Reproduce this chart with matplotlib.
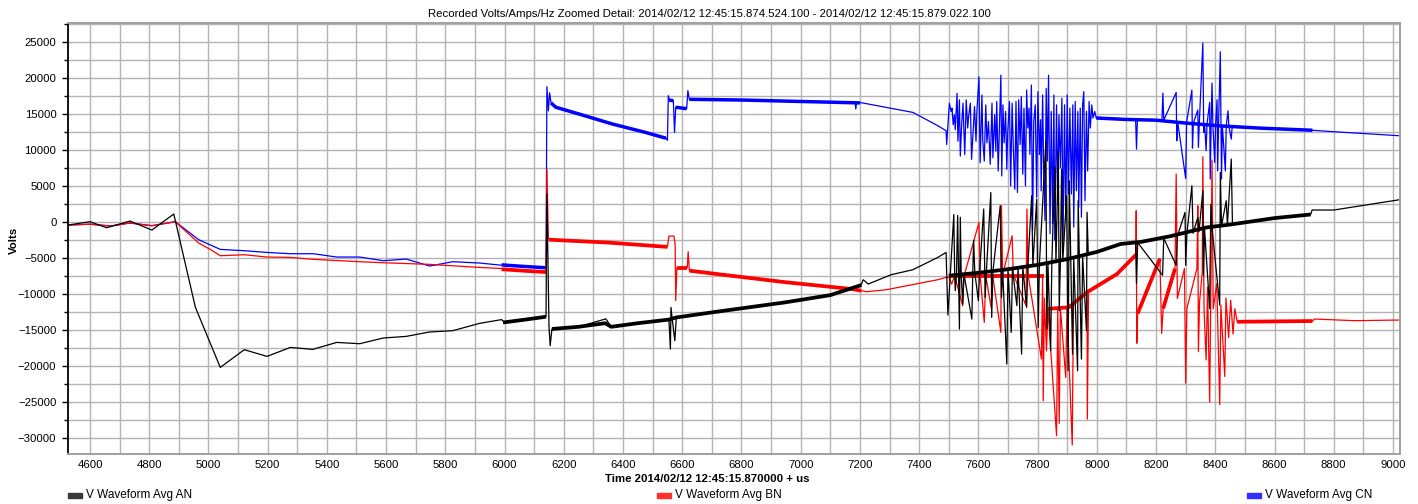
import matplotlib
matplotlib.use("Agg")
import matplotlib.pyplot as plt
from matplotlib.patches import Rectangle
from matplotlib.ticker import MultipleLocator

plt.rcParams["font.family"] = ["Liberation Sans", "DejaVu Sans"]

title = ("Recorded Volts/Amps/Hz Zoomed Detail: 2014/02/12 12:45:15.874.524.100"
         " - 2014/02/12 12:45:15.879.022.100")
x_label = "Time 2014/02/12 12:45:15.870000 + us"
y_label = "Volts"
series_names = ["V Waveform Avg AN", "V Waveform Avg BN", "V Waveform Avg CN"]

# (time us, volts) samples of each phase
an_pts = [
    (4527, -360), (4600, 100), (4656, -740), (4735, 190), (4809, -1060), (4883, 1170),
    (4956, -11800), (5040, -20140), (5121, -17680), (5198, -18610), (5277, -17360),
    (5352, -17640), (5433, -16670), (5511, -16850), (5590, -16060), (5668, -15830),
    (5747, -15220), (5825, -15040), (5915, -14030), (5990, -13500),
    (6000, -13900), (6070, -13500), (6140, -13100),
    (6143, 3940), (6150, -14400), (6154, -17130), (6160, -14800),
    (6250, -14500), (6342, -13400), (6360, -14500), (6450, -14000), (6555, -13500),
    (6560, -17590), (6562, -11800), (6566, -13400), (6575, -16430), (6580, -13200),
    (6700, -12500), (6947, -11110), (7100, -10100), (7205, -8600),
    (7211, -7960), (7228, -8560), (7306, -7260), (7379, -6570), (7463, -4860), (7491, -4170),
    (7497, -12870), (7505, -7400), (7517, 1090), (7520, -7300), (7522, -9490), (7526, -7300),
    (7530, 950), (7533, -7200), (7536, -14820), (7539, 720), (7542, -7200), (7547, -11340),
    (7551, -7100), (7578, -13430), (7581, -7100), (7584, -2490), (7588, -7000),
    (7600, -10880), (7604, -7000), (7618, 1870), (7623, -10420), (7627, -6900),
    (7642, 4160), (7645, -13200), (7649, -6800), (7674, 2330), (7678, -10420), (7682, -6700),
    (7696, -19680), (7700, -6500), (7711, -15280), (7715, -6400), (7730, -11570), (7734, -6300),
    (7746, -18290), (7750, -6200), (7763, -11800), (7767, -6100), (7780, 3710), (7784, -6000),
    (7797, 3250), (7802, -14580), (7806, -5900), (7828, 11280), (7831, -14820), (7835, -5800),
    (7844, -17830), (7848, -5700), (7858, 7610), (7862, -5600), (7870, 9900), (7873, -12270),
    (7877, -5500), (7881, 7380), (7885, -5400), (7898, 3710), (7903, -20600), (7907, 5770),
    (7912, -5100), (7918, -18290), (7922, -5000), (7935, -20600), (7937, 3020), (7941, -4800),
    (7948, -18980), (7952, -4700), (7965, -15050), (7967, 1410), (7971, -4400),
    (8000, -4100), (8080, -3000), (8131, -2800), (8134, -8490), (8138, -2800),
    (8222, -7340), (8226, -2200), (8268, -5960), (8272, -1900), (8298, 1390), (8300, -5960),
    (8304, -1700), (8321, 5090), (8325, -1500), (8341, 690), (8345, -1300), (8358, 4400),
    (8360, -7340), (8364, -1000), (8381, -11950), (8385, 2540), (8389, -800), (8415, -11490),
    (8417, 6940), (8421, -500), (8437, 3010), (8441, -400), (8454, 8800), (8458, -300),
    (8600, 600), (8722, 1100), (8727, 1720), (8800, 1720), (9022, 3150),
]

bn_pts = [
    (4527, -360), (4600, -250), (4670, -500), (4735, -80), (4809, -460), (4888, 100),
    (4967, -2860), (5010, -3840), (5040, -4630), (5121, -4490), (5198, -4810), (5277, -4860),
    (5354, -5130), (5511, -5460), (5590, -5600), (5747, -5830), (5915, -6250), (5983, -6390),
    (6060, -6700), (6140, -6940),
    (6143, 7420), (6148, -2300), (6350, -2800), (6550, -3400),
    (6555, -1900), (6572, -1900), (6576, -3000), (6578, -10870), (6582, -6300),
    (6617, -6300), (6620, -4070), (6624, -6700),
    (6723, -7200), (6947, -8300), (7172, -9250), (7205, -9490),
    (7222, -9630), (7289, -9350), (7463, -7960), (7491, -7640),
    (7500, -7600), (7510, -8560), (7520, -7400), (7547, -11570), (7552, -7400),
    (7602, 0), (7606, -7400), (7620, -13890), (7625, -7400), (7643, -11800), (7648, -7300),
    (7676, -15280), (7678, 2320), (7682, -7300), (7714, -1850), (7718, -7200),
    (7761, -11570), (7764, 1860), (7768, -7300), (7813, -18980), (7817, -7500),
    (7819, -24770), (7823, -10500), (7830, -17830), (7835, -12000), (7864, -29630),
    (7868, -12000), (7873, -27920), (7877, -11900), (7895, -21530), (7899, -11800),
    (7917, -30930), (7921, -11200), (7967, -9700), (7968, -27320), (7972, -9600),
    (8068, -7170), (8132, -4500), (8133, 1620), (8135, -16790), (8138, -12640),
    (8213, -5040), (8219, -15410), (8224, -11950), (8264, -6420), (8268, 6710),
    (8272, -10560), (8296, -6400), (8300, -22320), (8304, -12000), (8338, -6400),
    (8341, 2310), (8343, -17940), (8347, -11000), (8356, -7000), (8358, 9120),
    (8362, -12000), (8369, -19100), (8374, -9000), (8381, -24950), (8385, -10000),
    (8389, 8660), (8393, -12000), (8405, -8500), (8415, -25320), (8419, -11500),
    (8432, -21400), (8436, -10500), (8445, -16000), (8452, -10800), (8460, -15500),
    (8466, -12000), (8474, -13800), (8728, -13700), (8735, -13420), (8870, -13650),
    (9022, -13560),
]

cn_pts = [
    (4527, -360), (4600, -250), (4670, -500), (4735, -80), (4809, -460), (4888, 100),
    (4967, -2400), (5040, -3750), (5121, -3930), (5198, -4170), (5277, -4350), (5354, -4350),
    (5433, -4810), (5511, -4810), (5590, -5320), (5668, -5090), (5747, -6060), (5825, -5460),
    (5915, -5640), (5983, -5920), (6060, -6100), (6140, -6300),
    (6143, 18850), (6148, 15500), (6152, 18000), (6157, 16600), (6173, 16000),
    (6252, 15050), (6364, 13670), (6476, 12500), (6545, 11700), (6550, 11400),
    (6553, 17600), (6558, 16900), (6570, 16900), (6574, 12500), (6578, 16000),
    (6615, 15800), (6619, 18300), (6624, 17100), (6800, 17000), (7000, 16800),
    (7184, 16700), (7186, 15750), (7189, 16700), (7211, 16580), (7379, 15280),
    (7463, 13430), (7491, 12740), (7493, 10820),
    (7502, 16560), (7508, 15410), (7511, 15870), (7515, 13570), (7519, 14950), (7522, 12890),
    (7528, 17930), (7531, 11280), (7536, 17020), (7539, 9210), (7543, 13110), (7548, 16560),
    (7554, 9440), (7559, 17020), (7564, 13110), (7567, 14720), (7573, 16560), (7577, 8750),
    (7582, 12430), (7587, 16100), (7592, 11280), (7595, 15410), (7602, 20230), (7606, 8290),
    (7612, 17700), (7615, 11280), (7620, 8520), (7625, 16330), (7629, 11050), (7634, 14030),
    (7640, 8070), (7646, 16560), (7649, 8980), (7655, 14950), (7659, 9900), (7662, 16790),
    (7667, 7150), (7674, 17700), (7676, 20460), (7679, 6460), (7683, 16330), (7687, 11050),
    (7692, 15410), (7696, 7380), (7699, 12430), (7705, 16790), (7709, 5080), (7714, 16560),
    (7718, 10360), (7723, 4620), (7727, 16790), (7732, 4160), (7736, 17020), (7741, 10820),
    (7745, 17480), (7750, 6690), (7754, 15870), (7759, 5080), (7763, 18390), (7767, 13110),
    (7771, 15870), (7774, 9440), (7779, 19080), (7783, -1110), (7787, 14030), (7792, 16330),
    (7797, 3480), (7801, 18160), (7806, 9440), (7810, 14260), (7812, 4390), (7817, 17700),
    (7820, 8520), (7825, 260), (7829, 18620), (7833, 8520), (7837, 20460), (7842, -1570),
    (7846, 15410), (7851, -200), (7855, 17700), (7858, -2490), (7864, 16330), (7868, 2560),
    (7872, 14950), (7877, 7610), (7882, 17250), (7886, -2490), (7891, 16330), (7895, 260),
    (7900, 17700), (7904, 3940), (7909, 15870), (7914, 3940), (7919, 16330), (7922, -650),
    (7927, 16790), (7931, 4390), (7936, 15410), (7939, 2100), (7944, 15870), (7948, 720),
    (7952, 16330), (7956, 18160), (7960, 3020), (7965, 15410), (7969, 7150), (7974, 16790),
    (7978, 13110), (7983, 16330), (7987, 14490), (7993, 15410), (7998, 14490),
    (8000, 14600), (8131, 14300), (8134, 10180), (8137, 14300), (8220, 14200), (8223, 17960),
    (8226, 14200), (8268, 18050), (8270, 11340), (8273, 14000), (8300, 6110), (8303, 13900),
    (8321, 18380), (8323, 10320), (8326, 13800), (8341, 15600), (8343, 10420), (8346, 13700),
    (8358, 24910), (8361, 12500), (8364, 13700), (8369, 9950), (8372, 13600), (8381, 16670),
    (8383, 6020), (8386, 13600), (8389, 19350), (8392, 13500), (8398, 8330), (8401, 13500),
    (8406, 17040), (8408, 7170), (8411, 13400), (8417, 23700), (8421, 6020), (8424, 13400),
    (8434, 7170), (8437, 13400), (8443, 15510), (8446, 13300), (8454, 11570), (8457, 13300),
    (8728, 12800), (8800, 12600), (9022, 12040),
]

# stretches where the high rate samples smear into a solid noise band
an_band = [
    [(5995, -13900), (6070, -13500), (6140, -13100)],
    [(6160, -14800), (6250, -14500), (6340, -14000), (6360, -14500), (6450, -14000),
     (6555, -13500), (6580, -13200), (6700, -12500), (6947, -11110), (7100, -10100),
     (7205, -8700)],
    [(7500, -7400), (7600, -7000), (7700, -6500), (7800, -5900), (7900, -5100),
     (8000, -4100), (8080, -3000), (8150, -2700), (8250, -1900), (8370, -700),
     (8450, -300), (8600, 600), (8722, 1100)],
]
bn_band = [
    [(5990, -6500), (6060, -6700), (6140, -6900)],
    [(6150, -2400), (6350, -2800), (6550, -3400)],
    [(6582, -6300), (6617, -6300)],
    [(6624, -6700), (6723, -7200), (6947, -8300), (7172, -9250), (7205, -9490)],
    [(7500, -7500), (7820, -7500)],
    [(7835, -12000), (7905, -11800), (7967, -9700), (8068, -7170), (8132, -4500)],
    [(8138, -12640), (8213, -5040)],
    [(8224, -11950), (8264, -6420)],
    [(8474, -13800), (8728, -13700)],
]
cn_band = [
    [(5990, -5900), (6060, -6100), (6140, -6300)],
    [(6157, 16600), (6173, 16000), (6252, 15050), (6364, 13670), (6476, 12500),
     (6545, 11700)],
    [(6555, 17000), (6570, 16900)],
    [(6578, 16000), (6615, 15800)],
    [(6624, 17100), (6800, 17000), (7000, 16800), (7200, 16600)],
    [(7998, 14500), (8100, 14300), (8200, 14200), (8300, 13800), (8420, 13400),
     (8550, 13100), (8728, 12800)],
]

W, H = 1418, 504
fig = plt.figure(figsize=(W / 100, H / 100), dpi=100)
left, right, top, bottom = 67.5, 1399.5, 23, 453.5
ax = fig.add_axes([left / W, 1 - bottom / H, (right - left) / W, (bottom - top) / H])

# blue first, black last so AN sits on top
for pts, bands, color, bw in [(cn_pts, cn_band, "#0000ff", 2.5),
                              (bn_pts, bn_band, "#ff0000", 2.7),
                              (an_pts, an_band, "#000000", 2.7)]:
    for seg in bands:
        t, v = zip(*seg)
        ax.plot(t, v, color=color, lw=bw, solid_capstyle="butt")
    t, v = zip(*pts)
    ax.plot(t, v, color=color, lw=0.9)

ax.set_xlim(4524.1, 9022.1)
ax.set_ylim(-32100, 27700)
ax.xaxis.set_major_locator(MultipleLocator(200))
ax.xaxis.set_minor_locator(MultipleLocator(100))
ax.yaxis.set_major_locator(MultipleLocator(5000))
ax.yaxis.set_minor_locator(MultipleLocator(2500))
ax.grid(which="both", color="#b4b4b4", lw=1.0)
ax.set_axisbelow(True)

ax.tick_params(axis="x", which="both", length=0, pad=5, labelsize=8.2)
ax.tick_params(axis="y", which="major", length=4, width=1, pad=4, labelsize=8.2)
ax.tick_params(axis="y", which="minor", length=3, width=1)

for side in ["top", "right", "bottom"]:
    ax.spines[side].set_color("#a0a0a0")
    ax.spines[side].set_linewidth(1.4)
ax.spines["left"].set_color("#000000")
ax.spines["left"].set_linewidth(1.3)

fig.text(0.5, 1 - 14 / H, title, ha="center", va="center", fontsize=8.2)
fig.text(707 / W, 1 - 479 / H, x_label, ha="center", va="center",
         fontsize=8.2, fontweight="bold")
fig.text(14 / W, 1 - 240 / H, y_label, ha="center", va="center", rotation=90,
         fontsize=8.2, fontweight="bold")

# legend row along the bottom edge
swatch_colors = ["#3a3a3a", "#ff3030", "#3030ff"]
swatch_x = [67.7, 656.7, 1246.7]
for name, c, sx in zip(series_names, swatch_colors, swatch_x):
    fig.patches.append(Rectangle((sx / W, 1 - 497.5 / H), 14 / W, 5 / H,
                                 transform=fig.transFigure, color=c))
    fig.text((sx + 18) / W, 1 - 495 / H, name, ha="left", va="center", fontsize=8.5)

fig.savefig("out.png", dpi=100)
